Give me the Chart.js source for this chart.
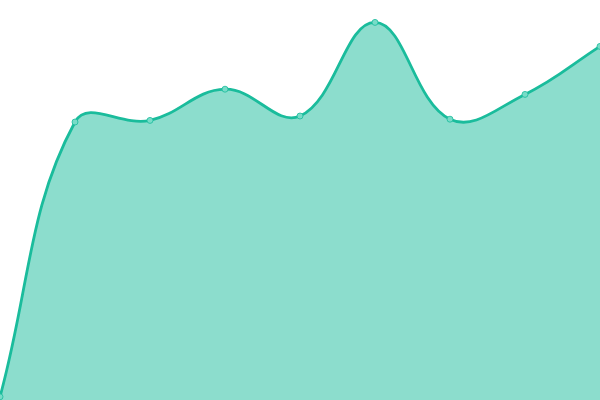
<!DOCTYPE html>
<html><head><meta charset="utf-8">
<script src="https://cdn.jsdelivr.net/npm/chart.js@4"></script>
<style>html,body{margin:0;padding:0;background:#fff;}#wrap{width:600px;height:400px;}</style>
</head><body><div id="wrap"><canvas id="c"></canvas></div>
<script>
const labels = ["1","2","3","4","5","6","7","8","9"];
const values = [0.8, 69.5, 69.9, 77.7, 71, 94.4, 70.2, 76.4, 88.4];
const yMin = 0;
const yMax = 100;
new Chart(document.getElementById('c'), {
  type: 'line',
  data: { labels: labels, datasets: [{
    data: values,
    fill: true,
    backgroundColor: 'rgba(26,188,156,0.5)',
    borderColor: '#1abc9c',
    borderWidth: 2.8,
    tension: 0.4,
    pointRadius: 3,
    pointBackgroundColor: 'rgba(120,220,200,1)',
    pointBorderColor: 'rgba(26,188,156,0.8)',
    pointBorderWidth: 1
  }]},
  options: {
    responsive: true, maintainAspectRatio: false, animation: false,
    layout: { padding: 0, autoPadding: false },
    plugins: { legend: { display: false }, tooltip: { enabled: false } },
    scales: {
      x: { display: false, offset: false },
      y: { display: false, min: yMin, max: yMax }
    }
  }
});
</script></body></html>
